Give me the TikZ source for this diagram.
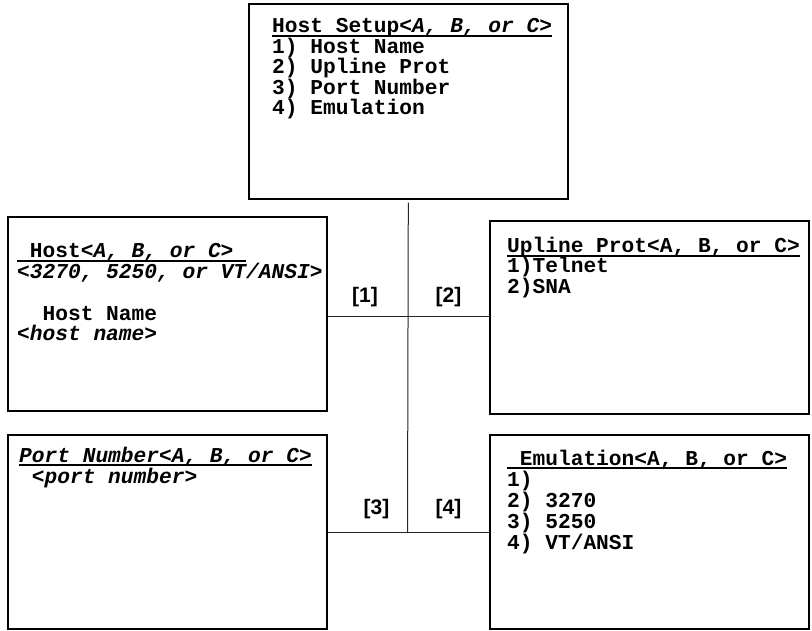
\documentclass[tikz,border=0pt]{standalone}
\usepackage{fontspec}
\newfontfamily\monofam{Liberation Mono}[WordSpace={1,0,0}]
\newfontfamily\labfam{Liberation Sans}
\newcommand\myul[1]{\setbox0\hbox{#1}\rlap{\rule[-3.8pt]{\wd0}{1.8pt}}\box0}
\begin{document}
\begin{tikzpicture}[x=1pt,y=-1pt,
  frame/.style={draw=black, line width=1.6pt, anchor=north west, inner sep=0pt, minimum width=319pt},
  txt/.style={anchor=base west, inner sep=0pt, font=\monofam\bfseries\fontsize{21.2}{21.2}\selectfont},
  lbl/.style={inner sep=0pt, font=\labfam\bfseries\fontsize{21}{21}\selectfont},
  link/.style={draw=black!85, line width=1pt}]
\useasboundingbox (0,0) rectangle (812,631);
% boxes
\node[frame, minimum height=195pt] (top) at (248,3) {};
\node[frame, minimum height=194pt] (lm) at (7,216) {};
\node[frame, minimum height=193pt] (rm) at (489,220) {};
\node[frame, minimum height=194pt] (bl) at (7,434) {};
\node[frame, minimum height=194pt] (br) at (489,434) {};
% top box text
\node[txt] (t0) at (272,33) {\myul{Host Setup\itshape<A, B, or C>}};
\node[txt] (t1) at (272,53.5) {1) Host Name};
\node[txt] (t2) at (272,74) {2) Upline Prot};
\node[txt] (t3) at (272,94.5) {3) Port Number};
\node[txt] (t4) at (272,115) {4) Emulation};
% left middle
\node[txt] (h0) at (17,258) {\myul{\ Host{\itshape<A, B, or C>}\ }};
\node[txt] (h1) at (17,278.5) {\itshape<3270, 5250, or VT/ANSI>};
\node[txt] (h2) at (17,320) {\ \ Host Name};
\node[txt] (h3) at (17,340.5) {\itshape<host name>};
% right middle
\node[txt] (u0) at (507,253) {\myul{Upline Prot<A, B, or C>}};
\node[txt] (u1) at (507,273) {1)Telnet};
\node[txt] (u2) at (507,293.5) {2)SNA};
% bottom left
\node[txt] (p0) at (19,462) {\myul{\itshape Port Number<A, B, or C>}};
\node[txt] (p1) at (19,483) {\itshape\ <port number>};
% bottom right
\node[txt] (e0) at (507,465) {\myul{\ Emulation<A, B, or C>}};
\node[txt] (e1) at (507,486) {1)};
\node[txt] (e2) at (507,507) {2) 3270};
\node[txt] (e3) at (507,528) {3) 5250};
\node[txt] (e4) at (507,549) {4) VT/ANSI};
% labels
\node[lbl] (l1) at (365,297.5) {[1]};
\node[lbl] (l2) at (448.5,297.5) {[2]};
\node[lbl] (l3) at (376.5,509) {[3]};
\node[lbl] (l4) at (448.5,509) {[4]};
% connectors
\coordinate (j1) at (407.5,317);
\coordinate (j2) at (407.5,532);
\draw[link] ([yshift=-3pt]top.south) -- ([yshift=-1pt]j2);
\draw[link] (lm.east |- j1) -- (rm.west |- j1);
\draw[link] (bl.east |- j2) -- (br.west |- j2);
\end{tikzpicture}
\end{document}
